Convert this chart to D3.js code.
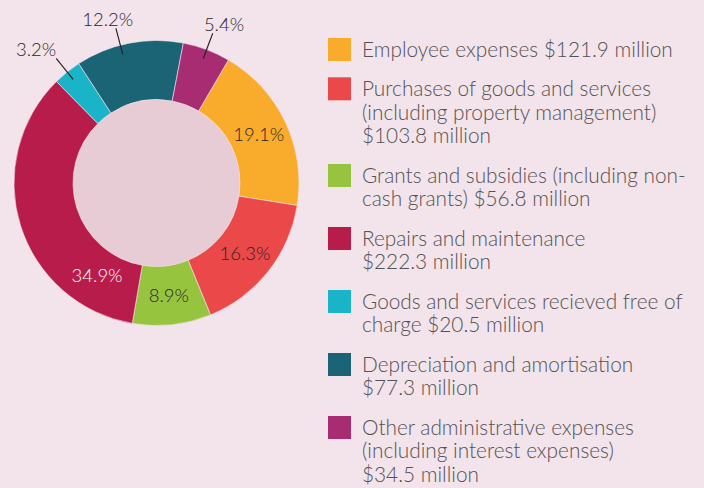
<!DOCTYPE html>
<html>
<head>
<meta charset="utf-8">
<script src="https://cdn.jsdelivr.net/npm/d3@7"></script>
<style>
  html, body { margin: 0; padding: 0; background: #f2e4ea; }
  svg { display: block; font-family: Lato, "Open Sans", sans-serif; font-weight: 300; }
</style>
</head>
<body>
<svg id="chart" width="704" height="488"></svg>
<script>
// Expense categories, in drawing order (clockwise)
const categories = [
  "Employee expenses",
  "Purchases of goods and services (including property management)",
  "Grants and subsidies (including non-cash grants)",
  "Repairs and maintenance",
  "Goods and services recieved free of charge",
  "Depreciation and amortisation",
  "Other administrative expenses (including interest expenses)"
];
// Amounts in $ million
const amounts = [121.9, 103.8, 56.8, 222.3, 20.5, 77.3, 34.5];
// Share of total expenses, %
const shares = [19.1, 16.3, 8.9, 34.9, 3.2, 12.2, 5.4];
// Legend wording, broken into lines; {v} is the amount
const legendLines = [
  ["Employee expenses {v}"],
  ["Purchases of goods and services", "(including property management)", "{v}"],
  ["Grants and subsidies (including non-", "cash grants) {v}"],
  ["Repairs and maintenance", "{v}"],
  ["Goods and services recieved free of", "charge {v}"],
  ["Depreciation and amortisation", "{v}"],
  ["Other administrative expenses", "(including interest expenses)", "{v}"]
];

const palette = ["#f9ab2b", "#ea4849", "#97c43f", "#b81c4a", "#1ab4c9", "#1a6476", "#a82c72"];

const svg = d3.select("#chart");
const W = 704, H = 488;
svg.append("rect").attr("width", W).attr("height", H).attr("fill", "#f2e4ea");

const cx = 156.5, cy = 183, rOuter = 142.5, rInner = 83.5;
const deg = Math.PI / 180;
const start = 30.3 * deg;

const color = d3.scaleOrdinal().domain(categories).range(palette);

const rows = categories.map((c, i) => ({ name: c, share: shares[i], amount: amounts[i], lines: legendLines[i] }));

const pie = d3.pie().sort(null).value(d => d.share).startAngle(start).endAngle(start + 2 * Math.PI);
const arcs = pie(rows);
const arc = d3.arc().innerRadius(rInner).outerRadius(rOuter);

const g = svg.append("g").attr("transform", `translate(${cx},${cy})`);

g.append("circle").attr("r", rInner).attr("fill", "#e7ccd5");

g.selectAll("path.slice")
  .data(arcs)
  .join("path")
  .attr("class", "slice")
  .attr("d", arc)
  .attr("fill", d => color(d.data.name))
  .attr("stroke", "#f2e4ea")
  .attr("stroke-width", 0.6);

const fmt = d3.format(".1f");
const polar = (r, a) => [r * Math.sin(a), -r * Math.cos(a)];
const largest = d3.max(arcs, d => d.value);

// Slices near the top get their label outside with a short leader
const isOutside = d => Math.cos((d.startAngle + d.endAngle) / 2) > 0.75;
// wide outside slices hang their leader a little before the middle
const leaderTilt = d => (d.endAngle - d.startAngle > 0.5 ? -3.6 * deg : 0);

arcs.forEach(d => {
  const mid = (d.startAngle + d.endAngle) / 2;
  const text = fmt(d.value) + "%";
  if (isOutside(d)) {
    const a = mid + leaderTilt(d);
    const p0 = polar(133, a), p1 = polar(160, a);
    g.append("line")
      .attr("x1", p0[0]).attr("y1", p0[1])
      .attr("x2", p1[0]).attr("y2", p1[1])
      .attr("stroke", "#231f20").attr("stroke-width", 1.1);
    g.append("text")
      .attr("x", 192 * Math.sin(a))
      .attr("y", p1[1] - 2)
      .attr("text-anchor", "middle")
      .attr("font-size", 18.5)
      .attr("fill", "#2b2628")
      .text(text);
  } else {
    // the widest slice carries its label near its leading edge
    const a = d.value === largest ? d.startAngle + 0.4 : mid;
    const r = d.value === largest ? 110 : (rInner + rOuter) / 2;
    const p = polar(r, a);
    g.append("text")
      .attr("x", p[0])
      .attr("y", p[1])
      .attr("dy", "0.36em")
      .attr("text-anchor", "middle")
      .attr("font-size", 18.5)
      .attr("fill", d.value === largest ? "#ffffff" : "#2b2628")
      .text(text);
  }
});

// Legend
const legendX = 328, sw = 23, textX = 362, lineH = 23.7, gap = 15.6;
let itemY = 38;
const legend = svg.append("g");
rows.forEach(d => {
  const item = legend.append("g");
  item.append("rect")
    .attr("x", legendX).attr("y", itemY)
    .attr("width", sw).attr("height", sw)
    .attr("fill", color(d.name));
  d.lines.forEach((ln, j) => {
    item.append("text")
      .attr("x", textX)
      .attr("y", itemY + 18.6 + j * lineH)
      .attr("font-size", 20.8)
      .attr("fill", "#545254")
      .text(ln.replace("{v}", "$" + fmt(d.amount) + " million"));
  });
  itemY += d.lines.length * lineH + gap;
});
</script>
</body>
</html>
